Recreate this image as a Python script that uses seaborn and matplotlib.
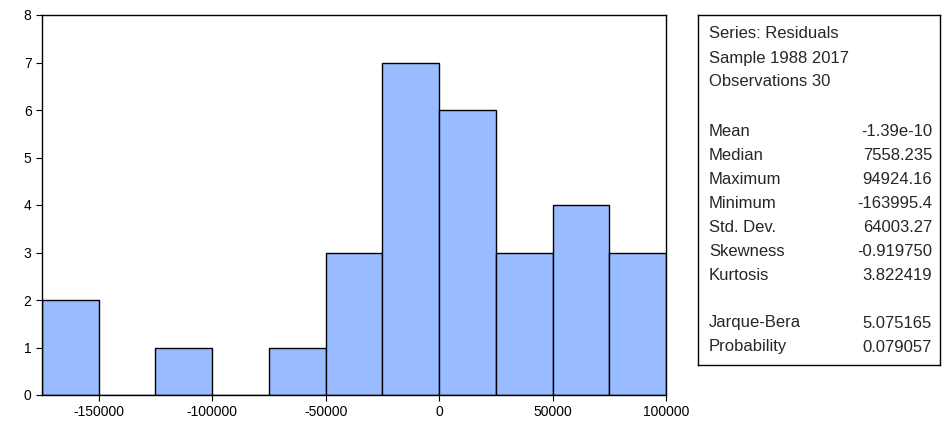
import matplotlib
matplotlib.use('Agg')
import numpy as np
import pandas as pd
import seaborn as sns
import matplotlib.pyplot as plt

sns.set_style('ticks')
plt.rcParams['font.family'] = ['Liberation Sans', 'DejaVu Sans']

# residual histogram: bin centres and counts
bin_centers = [-162500, -137500, -112500, -87500, -62500, -37500, -12500, 12500, 37500, 62500, 87500]
counts = [2, 0, 1, 0, 1, 3, 7, 6, 3, 4, 3]
bin_edges = list(range(-175000, 100001, 25000))

stat_names = ['Mean', 'Median', 'Maximum', 'Minimum', 'Std. Dev.', 'Skewness', 'Kurtosis']
stat_values = ['-1.39e-10', '7558.235', '94924.16', '-163995.4', '64003.27', '-0.919750', '3.822419']
jb_names = ['Jarque-Bera', 'Probability']
jb_values = ['5.075165', '0.079057']

df = pd.DataFrame({'resid': bin_centers, 'n': counts})

fig = plt.figure(figsize=(9.46, 4.3), dpi=100)
ax = fig.add_axes([42 / 946, 35 / 430, 624 / 946, 380 / 430])
sns.histplot(data=df, x='resid', weights='n', bins=bin_edges, ax=ax,
             color='#99bbff', edgecolor='black', linewidth=1, alpha=1)
ax.set_xlim(-175000, 100000)
ax.set_ylim(0, 8)
ax.set_xticks([-150000, -100000, -50000, 0, 50000, 100000])
ax.set_xticklabels(['-150000', '-100000', '-50000', '0', '50000', '100000'])
ax.set_yticks(range(9))
ax.set_xlabel('')
ax.set_ylabel('')
ax.tick_params(labelsize=10, length=4, direction='out', colors='black')
for s in ax.spines.values():
    s.set_visible(True)
    s.set_linewidth(1)
    s.set_color('black')

# stats box
bx = fig.add_axes([698 / 946, 65 / 430, 242 / 946, 350 / 430])
bx.set_xticks([])
bx.set_yticks([])
bx.set_xlim(0, 242)
bx.set_ylim(350, 0)
for s in bx.spines.values():
    s.set_linewidth(1)
    s.set_color('black')
fs = 12
for i, t in enumerate(['Series: Residuals', 'Sample 1988 2017', 'Observations 30']):
    bx.text(11, 19 + i * 24, t, fontsize=fs, va='center')
for i, (n, v) in enumerate(zip(stat_names, stat_values)):
    y = 116 + i * 24
    bx.text(11, y, n, fontsize=fs, va='center')
    bx.text(234, y, v, fontsize=fs, va='center', ha='right')
for i, (n, v) in enumerate(zip(jb_names, jb_values)):
    y = 308 + i * 24
    bx.text(11, y, n, fontsize=fs, va='center')
    bx.text(234, y, v, fontsize=fs, va='center', ha='right')

fig.savefig('out.png', dpi=100)
